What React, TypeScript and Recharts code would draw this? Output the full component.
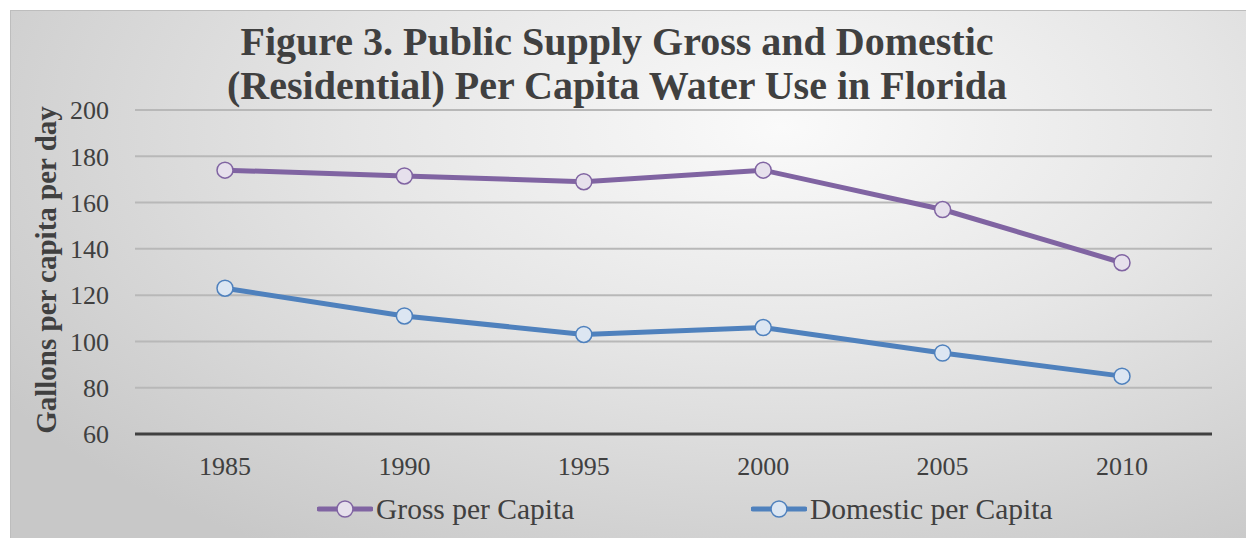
import { LineChart, Line, XAxis, YAxis, CartesianGrid } from 'recharts';

const years = ['1985', '1990', '1995', '2000', '2005', '2010'];
const grossPerCapita = [174, 171.5, 169, 174, 157, 134];
const domesticPerCapita = [123, 111, 103, 106, 95, 85];
const yTicks = [60, 80, 100, 120, 140, 160, 180, 200];

const SERIF = "'Liberation Serif', 'Times New Roman', serif";
const TEXT = '#404040';
const PURPLE = '#8064A2';
const BLUE = '#4F81BD';

const data = years.map((year, i) => ({
  year,
  gross: grossPerCapita[i],
  domestic: domesticPerCapita[i],
}));

function LegendIcon({ color, fill }: { color: string; fill: string }) {
  return (
    <svg width={56} height={20} style={{ display: 'block' }}>
      <line x1={2} y1={10} x2={54} y2={10} stroke={color} strokeWidth={5} strokeLinecap="round" />
      <circle cx={28} cy={10} r={8} fill={fill} stroke={color} strokeWidth={1.5} />
    </svg>
  );
}

function ChartLegend() {
  const items = [
    { label: 'Gross per Capita', color: PURPLE, fill: '#e6e0ec', left: 306 },
    { label: 'Domestic per Capita', color: BLUE, fill: '#dce6f2', left: 740 },
  ];
  return (
    <div style={{ position: 'absolute', left: 0, top: 478, width: 1244, height: 40 }}>
      {items.map((it) => (
        <div
          key={it.label}
          style={{
            position: 'absolute',
            left: it.left,
            top: 0,
            height: 40,
            display: 'flex',
            alignItems: 'center',
            fontFamily: SERIF,
            fontSize: 29.5,
            color: TEXT,
            whiteSpace: 'nowrap',
          }}
        >
          <LegendIcon color={it.color} fill={it.fill} />
          <span style={{ marginLeft: 3 }}>{it.label}</span>
        </div>
      ))}
    </div>
  );
}

export default function App() {
  return (
    <div
      style={{
        position: 'relative',
        marginLeft: 2,
        marginTop: 2,
        width: 1244,
        height: 528,
        boxSizing: 'border-box',
        borderTop: '1px solid #bdbdbd',
        borderLeft: '1px solid #bdbdbd',
        background:
          'radial-gradient(ellipse 75% 95% at 62% 22%, #fafafa 0%, #e6e6e6 45%, #c8c8c8 100%)',
      }}
    >
      <style>{'html,body{overflow:hidden}'}</style>
      <div
        style={{
          position: 'absolute',
          left: 0,
          top: 9,
          width: 1212,
          textAlign: 'center',
          fontFamily: SERIF,
          fontWeight: 'bold',
          fontSize: 40,
          lineHeight: '44px',
          color: TEXT,
        }}
      >
        Figure 3. Public Supply Gross and Domestic
        <br />
        (Residential) Per Capita Water Use in Florida
      </div>
      <div
        style={{
          position: 'absolute',
          left: 35 - 200,
          top: 259 - 17,
          width: 400,
          height: 34,
          lineHeight: '34px',
          textAlign: 'center',
          transform: 'rotate(-90deg)',
          fontFamily: SERIF,
          fontWeight: 'bold',
          fontSize: 29,
          color: TEXT,
        }}
      >
        Gallons per capita per day
      </div>
      <LineChart
        width={1244}
        height={528}
        data={data}
        margin={{ top: 100, right: 42, bottom: 74, left: 40 }}
        style={{ position: 'absolute', left: -1, top: -1 }}
      >
        <CartesianGrid vertical={false} stroke="#b8b8b8" strokeWidth={2} />
        <XAxis
          dataKey="year"
          height={30}
          padding={{ left: 90, right: 90 }}
          tickLine={false}
          tickSize={0}
          tickMargin={23}
          axisLine={{ stroke: TEXT, strokeWidth: 3 }}
          tick={{ fill: TEXT, fontSize: 26, fontFamily: SERIF }}
        />
        <YAxis
          width={85}
          domain={[60, 200]}
          ticks={yTicks}
          axisLine={false}
          tickLine={false}
          tickSize={0}
          tickMargin={26}
          tick={{ fill: TEXT, fontSize: 26, fontFamily: SERIF }}
        />
        <Line
          dataKey="gross"
          name="Gross per Capita"
          stroke={PURPLE}
          strokeWidth={5}
          dot={{ r: 8, fill: '#e6e0ec', stroke: PURPLE, strokeWidth: 1.5 }}
          isAnimationActive={false}
        />
        <Line
          dataKey="domestic"
          name="Domestic per Capita"
          stroke={BLUE}
          strokeWidth={5}
          dot={{ r: 8, fill: '#dce6f2', stroke: BLUE, strokeWidth: 1.5 }}
          isAnimationActive={false}
        />
      </LineChart>
      <ChartLegend />
    </div>
  );
}
